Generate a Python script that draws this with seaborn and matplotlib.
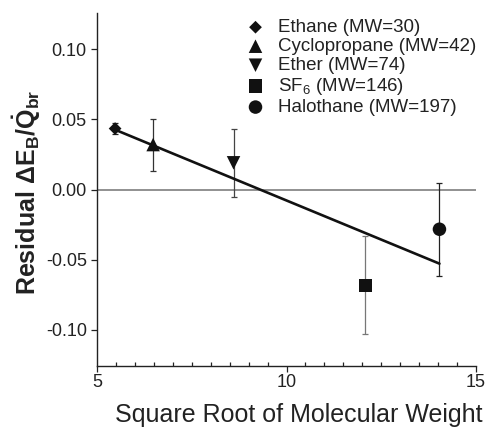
import numpy as np
import pandas as pd
import matplotlib
matplotlib.use("Agg")
import matplotlib.pyplot as plt
import seaborn as sns
from matplotlib.ticker import MultipleLocator, FixedLocator, FormatStrFormatter

# ---- data ----
compounds = ["Ethane (MW=30)", "Cyclopropane (MW=42)", "Ether (MW=74)",
             "SF$_6$ (MW=146)", "Halothane (MW=197)"]
mol_weight = [30, 42, 74, 146, 197]
residual = [0.0434, 0.0320, 0.0190, -0.0682, -0.0283]
residual_err = [0.0040, 0.0185, 0.0242, 0.0348, 0.0331]

x_ticks = [5, 10, 15]
y_ticks = [-0.10, -0.05, 0.00, 0.05, 0.10]

df = pd.DataFrame({
    "compound": compounds,
    "sqrt_mw": np.sqrt(mol_weight),
    "residual": residual,
    "err": residual_err,
})

# ---- style ----
sns.set_theme(style="ticks")
plt.rcParams["font.family"] = ["Liberation Sans", "DejaVu Sans"]
plt.rcParams["mathtext.fontset"] = "custom"
plt.rcParams["mathtext.rm"] = "Liberation Sans"
plt.rcParams["mathtext.it"] = "Liberation Sans"
plt.rcParams["mathtext.bf"] = "Liberation Sans:bold"
plt.rcParams["axes.unicode_minus"] = False

markers = ["D", "^", "v", "s", "o"]
marker_sizes = [9.0, 13.5, 13.5, 13.5, 13.5]  # points
err_colors = ["#222222", "#333333", "#444444", "#777777", "#222222"]
text_color = "#222222"

fig = plt.figure(figsize=(4.87, 4.28), dpi=100)
ax = fig.add_axes([97 / 487, 1 - 366 / 428, 379 / 487, 353 / 428])

# zero reference line
ax.axhline(0, color="#888888", lw=1.3, zorder=1)

# error bars
for i, row in df.iterrows():
    ax.errorbar(row["sqrt_mw"], row["residual"], yerr=row["err"], fmt="none",
                ecolor=err_colors[i], elinewidth=0.9, capsize=2.3,
                capthick=0.9, zorder=2)

# regression line (unweighted least squares, over data range)
sns.regplot(data=df, x="sqrt_mw", y="residual", scatter=False, ci=None,
            truncate=True, line_kws=dict(color="#111111", lw=1.9, zorder=3),
            ax=ax)

# points
for i, row in df.iterrows():
    sns.scatterplot(x=[row["sqrt_mw"]], y=[row["residual"]], marker=markers[i],
                    s=marker_sizes[i] ** 2 * 0.52, color="#111111",
                    edgecolor="none", linewidth=0, label=row["compound"],
                    ax=ax, zorder=4)

# axes
ax.set_xlim(5, 15)
ax.set_ylim(-0.1257, 0.1257)
ax.xaxis.set_major_locator(FixedLocator(x_ticks))
ax.xaxis.set_minor_locator(MultipleLocator(0.5))
ax.yaxis.set_major_locator(FixedLocator(y_ticks))
ax.yaxis.set_major_formatter(FormatStrFormatter("%.2f"))

sns.despine(ax=ax)
for sp in ["left", "bottom"]:
    ax.spines[sp].set_linewidth(1.0)
    ax.spines[sp].set_color("#222222")

ax.tick_params(axis="x", which="major", direction="out", length=4.5, width=0.9,
               pad=1.5, labelsize=13, colors=text_color)
ax.tick_params(axis="x", which="minor", direction="in", length=3, width=0.9,
               color=text_color)
ax.tick_params(axis="y", which="major", direction="out", length=4.3, width=0.9,
               pad=3, labelsize=13, colors=text_color)

ax.set_xlabel("Square Root of Molecular Weight", fontsize=18, color=text_color)
ax.xaxis.set_label_coords(0.533, -0.1586)
ax.xaxis.label.set_va("baseline")

ax.set_ylabel(r"$\mathbf{Residual}\ \mathbf{\Delta E_B/\dot{Q}_{br}}$",
              fontsize=18, color=text_color)
ax.yaxis.set_label_coords(-0.185, 0.493)
ax.yaxis.label.set_va("center")

leg = ax.legend(loc="upper left",
                bbox_to_anchor=((248 - 97) / 379, (366 - 19) / 353),
                frameon=False, fontsize=13.5, handlelength=0.8,
                handletextpad=0.8, labelspacing=0.1, borderaxespad=0,
                borderpad=0, scatterpoints=1)
for t in leg.get_texts():
    t.set_color(text_color)

fig.savefig("out.png", dpi=100)
